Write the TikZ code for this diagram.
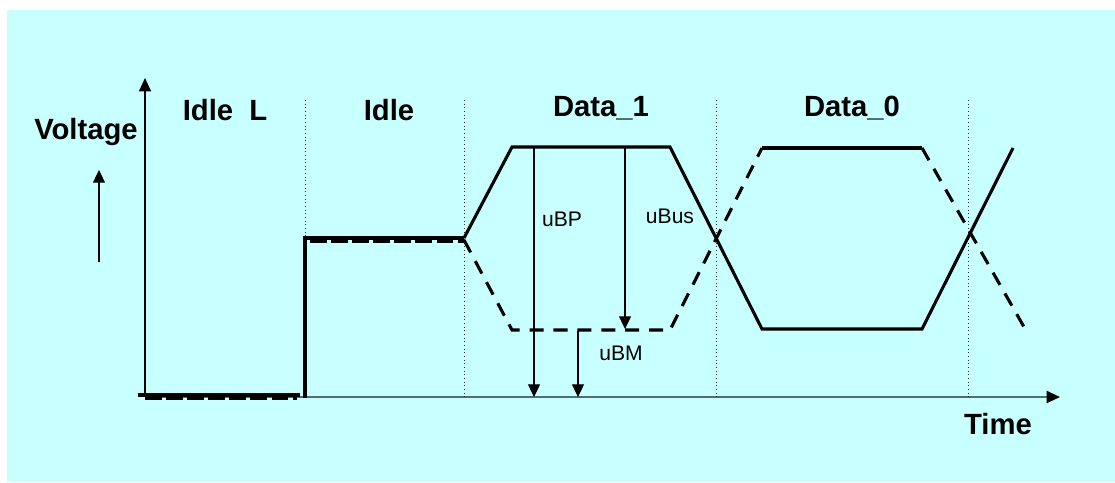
\documentclass[tikz,border=0pt]{standalone}
\usepackage{fontspec}
\setmainfont{Liberation Sans}
\usetikzlibrary{positioning,arrows.meta}
\definecolor{bgcolor}{HTML}{C8FFFF}
\definecolor{axiscolor}{HTML}{4F6E6E}

\begin{document}
\begin{tikzpicture}[
  x=0.025cm, y=-0.025cm,
  phase/.style={anchor=base, font=\bfseries\fontsize{20.8}{24}\selectfont},
  vlabel/.style={anchor=base, font=\fontsize{15}{18}\selectfont},
  sigp/.style={line width=2.2pt, line join=miter},
  sigm/.style={line width=2.2pt, dash pattern=on 10pt off 7pt},
  bound/.style={line width=0.6pt, dotted, black!80},
  meas/.style={line width=0.9pt, -{Triangle[length=9pt, width=8.5pt]}},
  axistip/.style={-{Triangle[length=9.5pt, width=8.5pt, color=black]}},
]

% Canvas and background
\useasboundingbox (0,0) rectangle (1115,482);
\fill[bgcolor] (7,10) rectangle (1115,482);

% Axes
\coordinate (origin) at (145,397);
\coordinate (vtop) at (145,78);
\coordinate (tend) at (1060,397);
\draw[axistip, line width=1pt] (origin) -- (vtop);
\draw[axistip, line width=1.6pt, axiscolor] (origin) -- (tend);

% Bit boundaries
\foreach \bx in {305,464,716,968}
  \draw[bound] (\bx,100) -- (\bx,397);

% Phase labels
\node[phase] (idlel) at (225,120) {Idle\ \ L};
\node[phase] (idle) at (389,120) {Idle};
\node[phase] (data1) at (601,116) {Data\_1};
\node[phase] (data0) at (852,116) {Data\_0};
\node[phase] (voltage) at (86,139) {Voltage};
\node[phase] (time) at (998,434) {Time};

% Voltage direction arrow
\coordinate (vlow) at (99,262);
\coordinate (vhigh) at (99,170);
\draw[meas] (vlow) -- (vhigh);

% Signals: BP solid, BM dashed
\draw[sigp, line width=3pt] (138,395) -- (300,395);
\draw[sigm, line width=2.6pt, dash pattern=on 12pt off 3pt] (145,398) -- (297,398);
\draw[sigp, line width=3pt] (305,398) -- (305,238) -- (464,238);
\draw[sigm, line width=2.6pt, dash pattern=on 12pt off 3pt] (310,241) -- (464,241);
\draw[sigp] (464,238) -- (512,147) -- (670,147) -- (762,329) -- (922,329) -- (1013,148);
\draw[sigm] (464,240) -- (512,330) -- (670,330) -- (762,148);
\draw[sigp] (762,148) -- (922,148);
\draw[sigm] (922,148) -- (1028,334);

% Measured voltages
\coordinate (bptop) at (534,148);
\coordinate (bpbot) at (534,397);
\coordinate (bustop) at (625,148);
\coordinate (busbot) at (625,329);
\coordinate (bmtop) at (578,331);
\coordinate (bmbot) at (578,397);
\draw[meas] (bptop) -- (bpbot);
\draw[meas] (bustop) -- (busbot);
\draw[meas] (bmtop) -- (bmbot);
\node[vlabel] (ubp) at (562,226) {uBP};
\node[vlabel] (ubus) at (670,223) {uBus};
\node[vlabel] (ubm) at (621,360) {uBM};

\end{tikzpicture}
\end{document}
